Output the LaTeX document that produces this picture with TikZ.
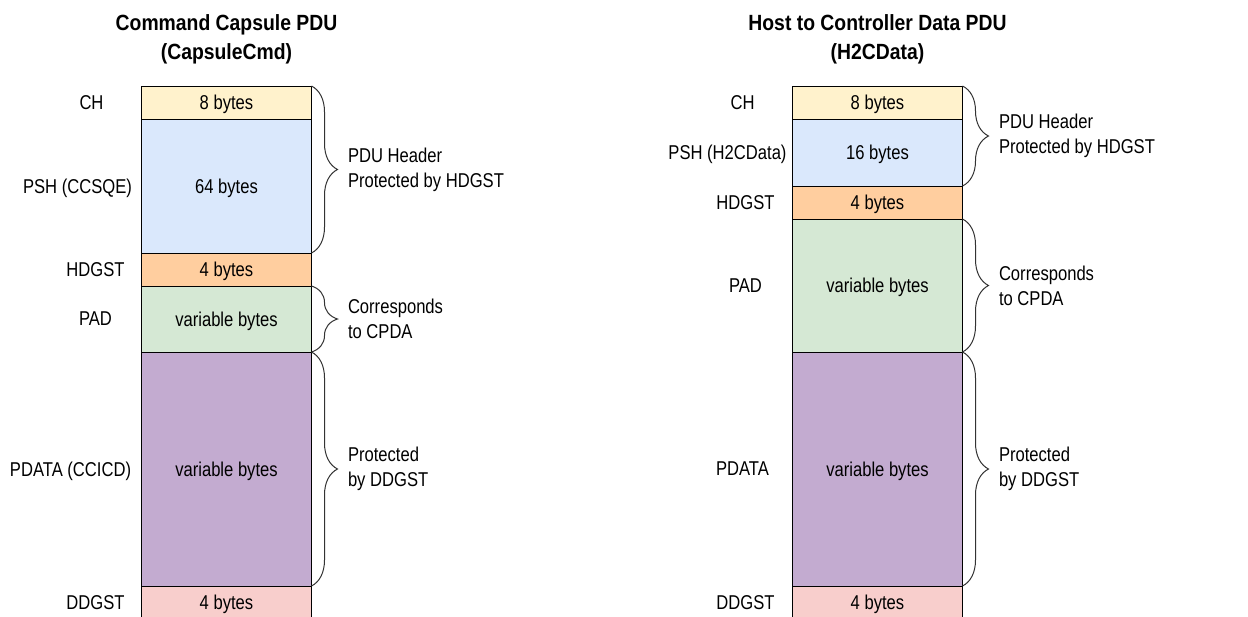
\documentclass[tikz,border=0pt]{standalone}
\usepackage{fontspec}
\setmainfont[FakeStretch=0.83]{Liberation Sans}
\newfontfamily\titlefont[FakeStretch=0.88]{Liberation Sans}
\usetikzlibrary{positioning,decorations.pathreplacing}
\definecolor{chyellow}{HTML}{FFF2CC}
\definecolor{pshblue}{HTML}{DAE8FC}
\definecolor{hdorange}{HTML}{FFCE9F}
\definecolor{padgreen}{HTML}{D5E8D4}
\definecolor{datapurple}{HTML}{C3ABD0}
\definecolor{ddred}{HTML}{F8CECC}
\begin{document}
\begin{tikzpicture}[x=1pt, y=-1pt, node distance=0pt]
    \tikzstyle{field} = [draw, rectangle, line width=1pt, minimum width=170pt, inner sep=0pt, outer sep=0pt, text depth=0pt, font=\fontsize{20}{24}\selectfont]
    \tikzstyle{fieldname} = [inner sep=0pt, text depth=0pt, font=\fontsize{20}{24}\selectfont]
    \tikzstyle{title} = [inner sep=0pt, align=center, font=\titlefont\fontsize{22}{29}\selectfont\bfseries]
    \tikzstyle{curly} = [decorate, decoration={brace, amplitude=26pt}, line width=1pt, draw=black!80]
    \tikzstyle{note} = [inner sep=0pt, anchor=west, xshift=36pt, align=left, font=\fontsize{20}{25}\selectfont]

    \useasboundingbox (0,0) rectangle (1248,616);

    % Command Capsule PDU
    \node[field, fill=chyellow, minimum height=33pt] (chA) at (226.5,102.5) {8 bytes};
    \node[field, fill=pshblue, minimum height=134pt, below=of chA] (pshA) {64 bytes};
    \node[field, fill=hdorange, minimum height=33pt, below=of pshA] (hdgstA) {4 bytes};
    \node[field, fill=padgreen, minimum height=66pt, below=of hdgstA] (padA) {variable bytes};
    \node[field, fill=datapurple, minimum height=234pt, below=of padA] (pdataA) {variable bytes};
    \node[field, fill=ddred, minimum height=33pt, below=of pdataA] (ddgstA) {4 bytes};
    \node[title, above=22pt of chA] (titleA) {Command Capsule PDU\\(CapsuleCmd)};

    \node[fieldname] (chAname) at ([xshift=-50pt]chA.west) {CH};
    \node[fieldname] (pshAname) at ([xshift=-64pt]pshA.west) {PSH (CCSQE)};
    \node[fieldname] (hdgstAname) at ([xshift=-46pt]hdgstA.west) {HDGST};
    \node[fieldname] (padAname) at ([xshift=-46pt]padA.west) {PAD};
    \node[fieldname] (pdataAname) at ([xshift=-71pt]pdataA.west) {PDATA (CCICD)};
    \node[fieldname] (ddgstAname) at ([xshift=-46pt]ddgstA.west) {DDGST};

    \draw[curly] (chA.north east) -- node[note] {PDU Header\\Protected by HDGST} (pshA.south east);
    \draw[curly] (padA.north east) -- node[note] {Corresponds\\to CPDA} (padA.south east);
    \draw[curly] (pdataA.north east) -- node[note] {Protected\\by DDGST} (pdataA.south east);

    % Host to Controller Data PDU
    \node[field, fill=chyellow, minimum height=33pt] (chB) at (877.5,102.5) {8 bytes};
    \node[field, fill=pshblue, minimum height=67pt, below=of chB] (pshB) {16 bytes};
    \node[field, fill=hdorange, minimum height=33pt, below=of pshB] (hdgstB) {4 bytes};
    \node[field, fill=padgreen, minimum height=133pt, below=of hdgstB] (padB) {variable bytes};
    \node[field, fill=datapurple, minimum height=234pt, below=of padB] (pdataB) {variable bytes};
    \node[field, fill=ddred, minimum height=33pt, below=of pdataB] (ddgstB) {4 bytes};
    \node[title, above=22pt of chB] (titleB) {Host to Controller Data PDU\\(H2CData)};

    \node[fieldname] (chBname) at ([xshift=-50pt]chB.west) {CH};
    \node[fieldname] (pshBname) at ([xshift=-65pt]pshB.west) {PSH (H2CData)};
    \node[fieldname] (hdgstBname) at ([xshift=-47pt]hdgstB.west) {HDGST};
    \node[fieldname] (padBname) at ([xshift=-47pt]padB.west) {PAD};
    \node[fieldname] (pdataBname) at ([xshift=-50pt]pdataB.west) {PDATA};
    \node[fieldname] (ddgstBname) at ([xshift=-47pt]ddgstB.west) {DDGST};

    \draw[curly] (chB.north east) -- node[note] {PDU Header\\Protected by HDGST} (pshB.south east);
    \draw[curly] (padB.north east) -- node[note] {Corresponds\\to CPDA} (padB.south east);
    \draw[curly] (pdataB.north east) -- node[note] {Protected\\by DDGST} (pdataB.south east);
\end{tikzpicture}
\end{document}
